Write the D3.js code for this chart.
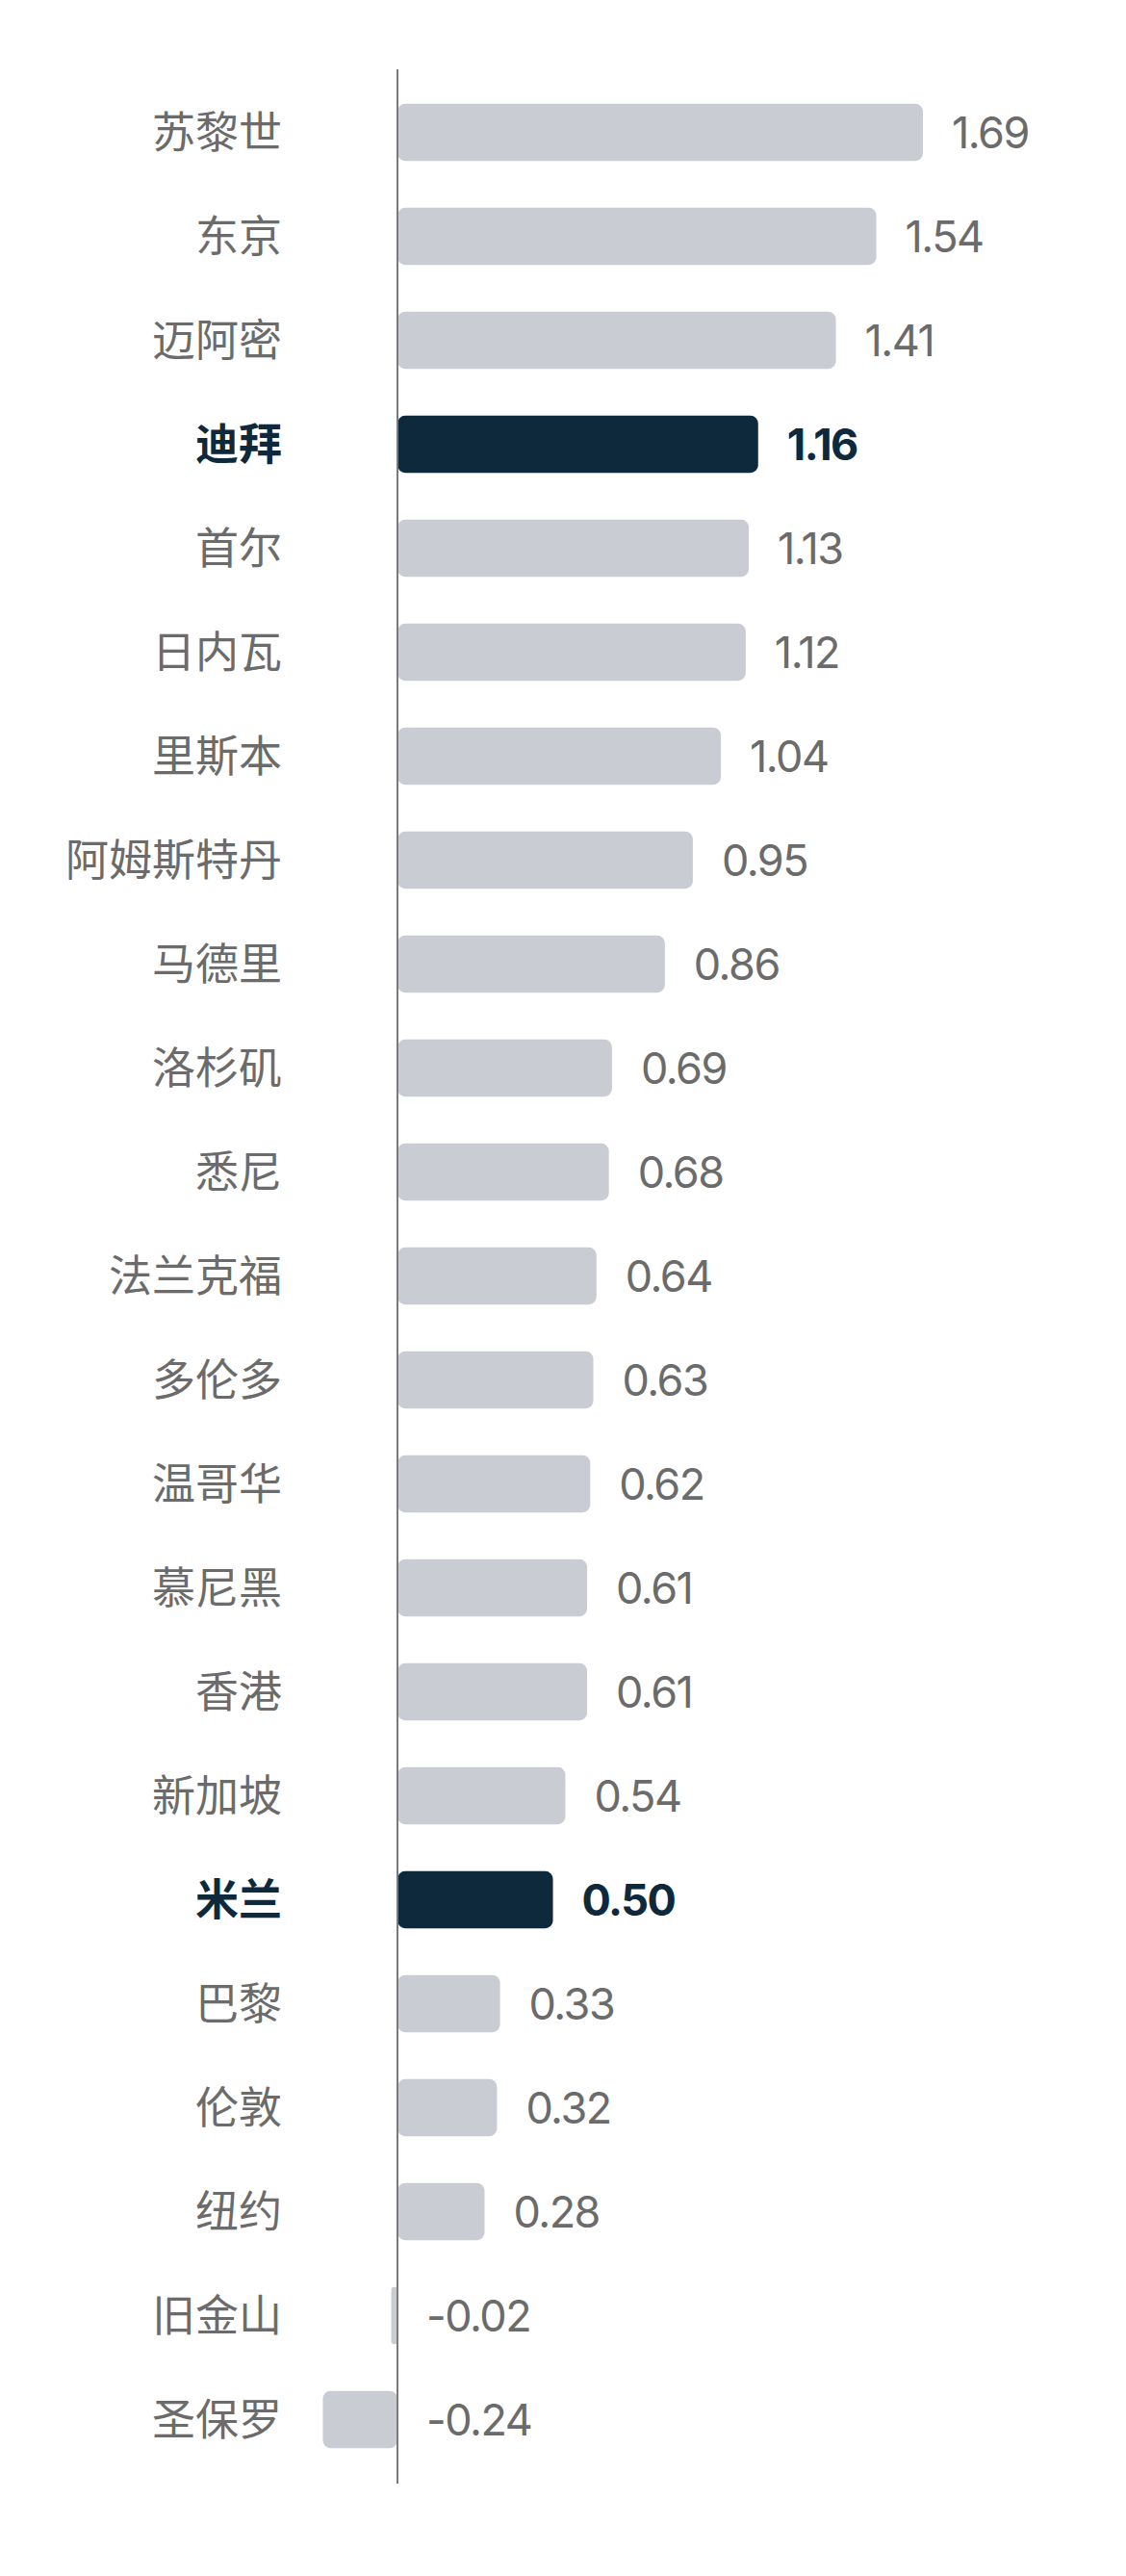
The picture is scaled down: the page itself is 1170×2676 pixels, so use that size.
<!DOCTYPE html>
<html>
<head>
<meta charset="utf-8">
<script src="https://cdn.jsdelivr.net/npm/d3@7"></script>
<style>
  html, body { margin: 0; padding: 0; background: #ffffff; }
  svg { display: block; }
</style>
</head>
<body>
<div id="chart"></div>
<script>
const cities = ["苏黎世","东京","迈阿密","迪拜","首尔","日内瓦","里斯本","阿姆斯特丹","马德里","洛杉矶","悉尼","法兰克福","多伦多","温哥华","慕尼黑","香港","新加坡","米兰","巴黎","伦敦","纽约","旧金山","圣保罗"];
const values = [1.69,1.54,1.41,1.16,1.13,1.12,1.04,0.95,0.86,0.69,0.68,0.64,0.63,0.62,0.61,0.61,0.54,0.50,0.33,0.32,0.28,-0.02,-0.24];
const highlighted = ["迪拜","米兰"];
const valueLabels = ["1.69","1.54","1.41","1.16","1.13","1.12","1.04","0.95","0.86","0.69","0.68","0.64","0.63","0.62","0.61","0.61","0.54","0.50","0.33","0.32","0.28","-0.02","-0.24"];

const W = 1170, H = 2676;
const data = cities.map((c, i) => ({ city: c, value: values[i], label: valueLabels[i], hi: highlighted.includes(c) }));

const svg = d3.select("#chart").append("svg").attr("width", W).attr("height", H);

const y = d3.scaleBand().domain(cities).range([83.5, 2567.5]).paddingInner(0.45).paddingOuter(0.225);
const x = d3.scaleLinear().domain([0, 1.69]).range([413, 959]);

const GRAY = "#c9ccd2", DARK = "#0f293c", TXT = "#6b6b6b";

// bars
svg.append("g").selectAll("rect").data(data).join("rect")
  .attr("x", d => Math.min(x(0), x(d.value)))
  .attr("y", d => y(d.city))
  .attr("width", d => Math.abs(x(d.value) - x(0)))
  .attr("height", y.bandwidth())
  .attr("rx", d => Math.min(8, Math.abs(x(d.value) - x(0)) / 2))
  .attr("fill", d => d.hi ? DARK : GRAY);

// axis line
svg.append("line")
  .attr("x1", x(0)).attr("x2", x(0))
  .attr("y1", 72).attr("y2", 2580)
  .attr("stroke", "#7a7a7a").attr("stroke-width", 2);

// category labels
svg.append("g").selectAll("text").data(data).join("text")
  .attr("x", 293)
  .attr("y", d => y(d.city) + y.bandwidth() / 2)
  .attr("dy", "0.36em")
  .attr("text-anchor", "end")
  .attr("font-family", "'Noto Sans CJK SC', 'Noto Sans', sans-serif")
  .attr("font-size", 45)
  .attr("font-weight", d => d.hi ? 700 : 400)
  .attr("fill", d => d.hi ? DARK : TXT)
  .text(d => d.city);

// value labels
svg.append("g").selectAll("text").data(data).join("text")
  .attr("x", d => x(Math.max(0, d.value)) + 30)
  .attr("y", d => y(d.city) + y.bandwidth() / 2)
  .attr("dy", "0.36em")
  .attr("text-anchor", "start")
  .attr("font-family", "Inter, 'Noto Sans', sans-serif")
  .attr("font-size", 45)
  .attr("letter-spacing", "-1.5")
  .attr("font-weight", d => d.hi ? 700 : 400)
  .attr("fill", d => d.hi ? DARK : TXT)
  .text(d => d.label);
</script>
</body>
</html>
